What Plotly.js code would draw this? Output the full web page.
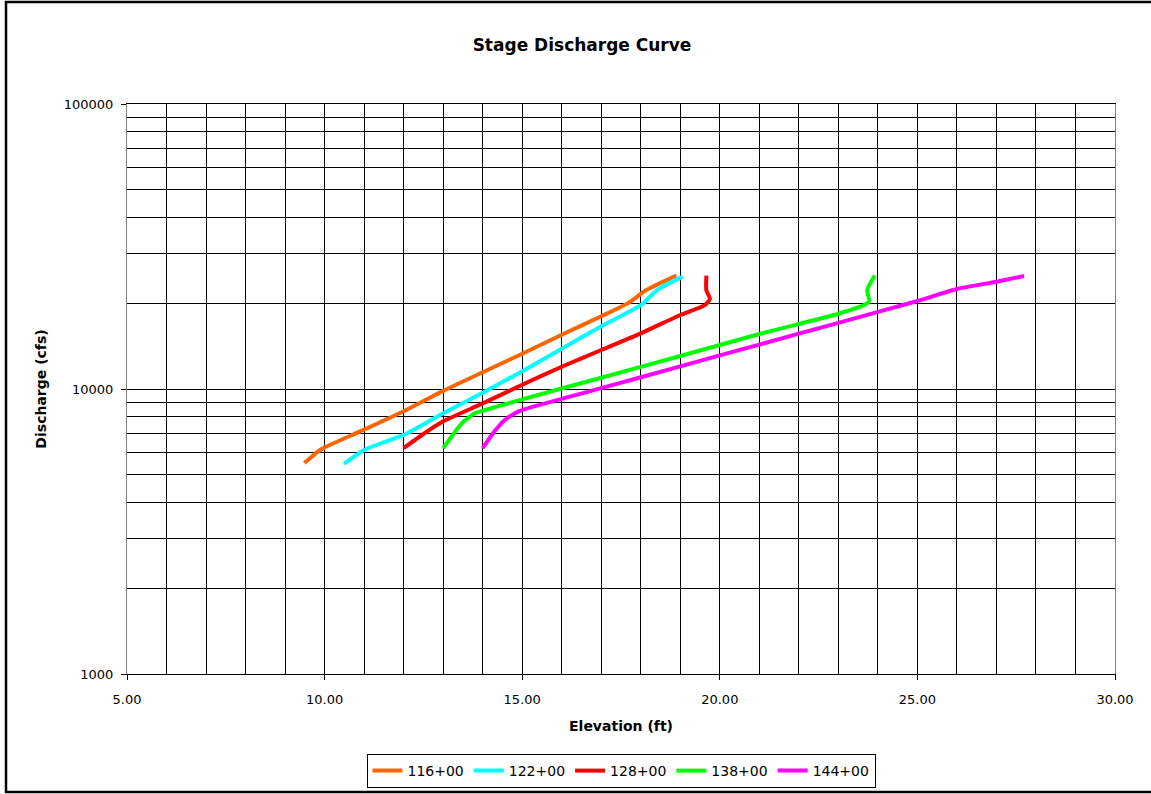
<!DOCTYPE html>
<html>
<head>
<meta charset="utf-8">
<script src="https://cdn.plot.ly/plotly-3.0.1.min.js"></script>
<style>
  html, body { margin: 0; padding: 0; background: #fff; }
  #chart { width: 1151px; height: 794px; }
</style>
</head>
<body>
<div id="chart"></div>
<script>
// ---- Data ----
const seriesNames = ["116+00", "122+00", "128+00", "138+00", "144+00"];

const elev116 = [9.49, 9.83, 10.0, 11.0, 12.0, 13.0, 14.0, 15.0, 16.0, 17.0, 17.7, 18.13, 18.9];
const flow116 = [5500, 6030, 6240, 7200, 8350, 9850, 11450, 13300, 15500, 18000, 20100, 22200, 25000];

const elev122 = [10.49, 11.0, 12.0, 13.0, 14.0, 15.0, 16.0, 17.06, 18.03, 18.41, 19.06];
const flow122 = [5460, 6110, 6900, 8220, 9700, 11550, 13850, 16770, 19800, 22250, 24800];

const elev128 = [12.0, 12.5, 13.0, 14.0, 15.0, 16.0, 17.0, 18.0, 19.0, 19.62, 19.75, 19.66, 19.66];
const flow128 = [6200, 6950, 7700, 8900, 10350, 11970, 13700, 15680, 18180, 19700, 20700, 22200, 25000];

const elev138 = [13.0, 13.21, 13.47, 13.8, 14.0, 15.0, 17.0, 19.0, 21.0, 23.0, 23.65, 23.78, 23.73, 23.92];
const flow138 = [6200, 6800, 7580, 8220, 8390, 9200, 10950, 13060, 15590, 18370, 19700, 20300, 22200, 25000];

const elev144 = [14.0, 14.23, 14.56, 14.9, 15.07, 17.0, 19.0, 21.0, 23.0, 25.0, 26.0, 27.0, 27.7];
const flow144 = [6200, 6900, 7780, 8330, 8500, 10070, 12010, 14320, 17070, 20360, 22430, 23790, 24900];

const seriesColors = ["#FF6600", "#00FFFF", "#FF0000", "#00FF00", "#FF00FF"];

const xTickVals = [5, 10, 15, 20, 25, 30];
const xTickText = ["5.00", "10.00", "15.00", "20.00", "25.00", "30.00"];
const yTickVals = [1000, 10000, 100000];
const yTickText = ["1000", "10000", "100000"];
const yMinorVals = [2000, 3000, 4000, 5000, 6000, 7000, 8000, 9000,
                    20000, 30000, 40000, 50000, 60000, 70000, 80000, 90000];

// ---- Build traces ----
const xs = [elev116, elev122, elev128, elev138, elev144];
const ys = [flow116, flow122, flow128, flow138, flow144];
const traces = seriesNames.map((name, i) => ({
  type: "scatter",
  mode: "lines",
  name: name,
  x: xs[i],
  y: ys[i],
  line: { color: seriesColors[i], width: 4, shape: "spline", smoothing: 0.6 }
}));

const FONT = "DejaVu Sans, Arial, sans-serif";

const ml = 127, mr = 36, mt = 104, mb = 120;
const pw = 1151 - ml - mr, ph = 794 - mt - mb;

const layout = {
  width: 1151,
  height: 794,
  margin: { l: ml, r: mr, t: mt, b: mb, pad: 0, autoexpand: false },
  paper_bgcolor: "#ffffff",
  plot_bgcolor: "#ffffff",
  font: { family: FONT, color: "#000", size: 13 },
  title: {
    text: "<b>Stage Discharge Curve</b>",
    font: { family: FONT, size: 17, color: "#000" },
    x: 582 / 1151, xref: "container", xanchor: "center",
    y: 1 - 45 / 794, yref: "container", yanchor: "middle"
  },
  xaxis: {
    range: [5, 30],
    tickmode: "array",
    tickvals: xTickVals,
    ticktext: xTickText,
    ticks: "outside",
    ticklen: 5,
    tickcolor: "#000",
    ticklabelstandoff: 8,
    tickfont: { family: FONT, size: 13, color: "#000" },
    showgrid: true,
    gridcolor: "#000",
    gridwidth: 1,
    zeroline: false,
    showline: true,
    linecolor: "#000",
    linewidth: 1,
    mirror: true,
    automargin: false,
    minor: { dtick: 1, tick0: 5, showgrid: true, gridcolor: "#000", gridwidth: 1, ticks: "" },
    title: {
      text: "<b>Elevation (ft)</b>",
      font: { family: FONT, size: 14, color: "#000" },
      standoff: 15
    },
    fixedrange: true
  },
  yaxis: {
    type: "log",
    range: [3, 5],
    tickmode: "array",
    tickvals: yTickVals,
    ticktext: yTickText,
    ticks: "outside",
    ticklen: 5,
    tickcolor: "#000",
    ticklabelstandoff: 5,
    tickfont: { family: FONT, size: 13, color: "#000" },
    showgrid: true,
    gridcolor: "#000",
    gridwidth: 1,
    zeroline: false,
    showline: true,
    linecolor: "#808080",
    linewidth: 1,
    mirror: true,
    automargin: false,
    minor: { tickmode: "array", tickvals: yMinorVals, showgrid: true, gridcolor: "#000", gridwidth: 1, ticks: "" },
    title: {
      text: "<b>Discharge (cfs)</b>",
      font: { family: FONT, size: 14, color: "#000" },
      standoff: 13
    },
    fixedrange: true
  },
  showlegend: true,
  legend: {
    orientation: "h",
    x: 0.5, xanchor: "center",
    y: (674 - 754) / ph, yanchor: "top",
    bgcolor: "#ffffff",
    bordercolor: "#000",
    borderwidth: 1,
    font: { family: FONT, size: 14, color: "#000" },
    itemwidth: 30,
    tracegroupgap: 0
  },
  shapes: [{
    type: "rect", xref: "paper", yref: "paper", layer: "below",
    x0: (6 - ml) / pw, x1: (1165 - ml) / pw,
    y0: (674 - 792) / ph, y1: (674 - 2) / ph,
    line: { color: "#000", width: 2.5 }, fillcolor: "rgba(0,0,0,0)"
  }]
};

Plotly.newPlot("chart", traces, layout, { displayModeBar: false, staticPlot: true });
</script>
</body>
</html>
